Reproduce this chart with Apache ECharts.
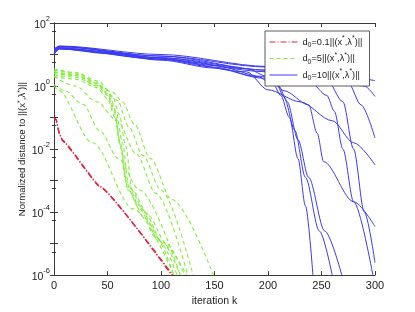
<!DOCTYPE html>
<html><head><meta charset="utf-8">
<script src="https://cdn.jsdelivr.net/npm/echarts@6/dist/echarts.min.js"></script>
<style>html,body{margin:0;padding:0;background:#fff}#c{width:415px;height:312px}</style>
</head><body><div id="c"></div>
<script>
// x ticks
const xTicks = [0, 50, 100, 150, 200, 250, 300];
// y tick exponents (log10)
const yTickExp = [-6, -4, -2, 0, 2];
// Series control points: [iteration k, log10(distance)]
const redLines = [
  [[0,-1.0],[2,-1.05],[5,-1.5],[8,-1.72],[43,-3.18],[110,-6]],
  [[0,-1.02],[2,-1.08],[5,-1.52],[8,-1.75],[43,-3.2],[111,-6]]
];
const greenLines = [
  [[0,0.0],[3,-0.1],[36,-1.8],[74,-3.9],[112,-6]],
  [[0,0.05],[10,-0.15],[27,-0.58],[43,-1.43],[60,-2.3],[80,-3.3],[118,-6]],
  [[0,0.3],[20,0.0],[40,-0.5],[59,-1.1],[77,-2.16],[95,-3.4],[125,-6]],
  [[0,0.45],[20,0.35],[40,0.0],[55,-0.2],[64,-0.5],[75,-1.2],[90,-2.3],[110,-3.6],[149,-6]],
  [[0,0.55],[20,0.42],[45,0.0],[59,-0.45],[70,-1.3],[83,-2.2],[100,-3.3],[130,-6]],
  [[0,0.4],[20,0.33],[40,0.08],[50,-0.25],[56,-0.7],[62,-1.8],[68,-3.2],[80,-3.9],[95,-4.8],[112,-6]],
  [[0,0.45],[20,0.38],[40,0.12],[52,-0.3],[58,-0.8],[64,-1.8],[70,-3.2],[85,-4.0],[100,-4.9],[118,-6]],
  [[0,0.35],[20,0.28],[40,0.02],[50,-0.3],[56,-0.8],[62,-1.9],[67,-3.0],[80,-3.8],[98,-4.9],[115,-6]],
  [[0,0.5],[20,0.43],[42,0.15],[55,-0.35],[61,-0.9],[67,-1.9],[73,-3.3],[88,-4.1],[105,-5.0],[122,-6]],
  [[0,0.3],[20,0.22],[40,-0.05],[50,-0.4],[57,-1.0],[63,-2.0],[69,-3.3],[85,-4.2],[102,-5.0],[124,-6]]
];
const blueLines = [
  [[0,1.05],[5,1.2],[50,1.05],[100,0.85],[150,0.6],[190,0.3],[205,0.05],[212,-0.3],[220,-1.0],[228,-2.3],[235,-3.8],[242,-6]],
  [[0,1.1],[5,1.22],[50,1.07],[100,0.88],[150,0.65],[195,0.3],[208,0.05],[215,-0.35],[225,-1.4],[235,-2.9],[248,-4.6],[260,-6]],
  [[0,1.0],[5,1.18],[50,1.03],[100,0.82],[150,0.57],[195,0.25],[210,0.0],[218,-0.5],[228,-1.7],[238,-2.9],[253,-4.6],[269,-6]],
  [[0,1.15],[5,1.25],[100,0.9],[180,0.55],[200,0.3],[215,-0.15],[238,-0.6],[246,-1.5],[252,-2.4],[280,-3.67],[300,-4.46]],
  [[0,1.12],[5,1.24],[100,0.95],[200,0.5],[240,0.1],[255,-0.3],[262,-0.8],[270,-2.0],[280,-3.67],[298,-6]],
  [[0,1.18],[5,1.27],[100,1.0],[200,0.62],[250,0.4],[300,0.17]],
  [[0,1.05],[5,1.2],[100,0.9],[200,0.5],[260,0.3],[275,0.1],[287,-0.6],[300,-1.65]],
  [[0,1.08],[5,1.2],[100,0.85],[180,0.45],[200,-0.12],[230,-0.5],[260,-1.1],[280,-1.8],[300,-2.5]],
  [[0,1.02],[5,1.17],[100,0.85],[200,0.45],[255,0.2],[270,-0.5],[280,-2.0],[290,-4.0],[300,-5.6]],
  [[0,1.15],[5,1.26],[100,0.95],[200,0.6],[260,0.3],[290,0.0],[300,-0.33]]
];
const legendNames = ['d0=0.1', 'd0=5', 'd0=10'];
const legendLabels = {
  'd0=0.1': 'd{sub|0}=0.1||(x{sup|*},λ{sup|*})||',
  'd0=5': 'd{sub|0}=5||(x{sup|*},λ{sup|*})||',
  'd0=10': 'd{sub|0}=10||(x{sup|*},λ{sup|*})||'
};

const RED = '#e0203c', GREEN = '#84ec40', BLUE = '#3b3bee';
const toVal = pts => pts.map(p => [p[0], Math.pow(10, p[1])]);
const mk = (pts, name, color, type, width, sm) => ({
  type: 'line', name, data: toVal(pts), showSymbol: false, symbol: 'none',
  smooth: sm, smoothMonotone: 'x', clip: true,
  lineStyle: { color, width, type }, itemStyle: { color }
});
const series = [];
blueLines.forEach(p => series.push(mk(p, legendNames[2], BLUE, 'solid', 1, 0.3)));
greenLines.forEach(p => series.push(mk(p, legendNames[1], GREEN, [4, 3], 1.1, 0.3)));
redLines.forEach(p => series.push(mk(p, legendNames[0], RED, [6, 2, 1, 2], 1.3, 0.1)));

const axisCol = '#3a3a3a';
const FONT = 'Liberation Sans';
const rich = {
  sup: { fontSize: 7, verticalAlign: 'top', lineHeight: 8, fontFamily: FONT, color: '#222' },
  sub: { fontSize: 7, verticalAlign: 'bottom', lineHeight: 8, fontFamily: FONT, color: '#222' }
};
const yRich = {
  b: { fontSize: 10.5, fontFamily: FONT, color: '#222', lineHeight: 16, verticalAlign: 'bottom' },
  s: { fontSize: 7.5, fontFamily: FONT, color: '#222', lineHeight: 16, verticalAlign: 'top' }
};

const chart = echarts.init(document.getElementById('c'), null, { renderer: 'canvas' });
chart.setOption({
  animation: false,
  backgroundColor: '#fff',
  grid: { left: 54, right: 40, top: 23, bottom: 35 },
  legend: {
    data: legendNames, orient: 'vertical', left: 265, top: 31,
    padding: [4, 7, 4, 4], itemWidth: 28, itemHeight: 14, itemGap: 2.5,
    backgroundColor: '#fff', borderColor: '#333', borderWidth: 0.8,
    selectedMode: false,
    itemStyle: { opacity: 0, borderWidth: 0 },
    lineStyle: { width: 1 },
    textStyle: { fontSize: 9.2, fontFamily: FONT, color: '#222', lineHeight: 14, rich },
    formatter: n => legendLabels[n]
  },
  xAxis: [{
    type: 'value', min: 0, max: 300, interval: 50,
    name: 'iteration k', nameLocation: 'middle', nameGap: 15,
    nameTextStyle: { fontSize: 10.5, fontFamily: FONT, color: '#222' },
    axisLine: { lineStyle: { color: axisCol, width: 1 } },
    axisTick: { inside: true, length: 4, lineStyle: { color: axisCol } },
    axisLabel: { fontSize: 11, fontFamily: FONT, color: '#222', margin: 5 },
    splitLine: { show: false }
  }, {
    type: 'value', min: 0, max: 300, interval: 50, position: 'top',
    axisLine: { lineStyle: { color: axisCol, width: 1 } },
    axisTick: { inside: true, length: 4, lineStyle: { color: axisCol } },
    axisLabel: { show: false }, splitLine: { show: false }
  }],
  yAxis: [{
    type: 'log', logBase: 10, min: 1e-6, max: 1e2,
    name: 'Normalized distance to ||(x{sup|*},λ{sup|*})||',
    nameLocation: 'middle', nameGap: 27, nameRotate: 90, nameMoveOverlap: false,
    nameTextStyle: { fontSize: 9.6, fontFamily: FONT, color: '#222', rich },
    axisLine: { show: true, lineStyle: { color: axisCol, width: 1 } },
    axisTick: { inside: true, length: 4, lineStyle: { color: axisCol } },
    minorTick: { show: true, splitNumber: 2, length: 2, lineStyle: { color: axisCol } },
    axisLabel: {
      margin: 4, fontFamily: FONT,
      formatter: v => {
        const e = Math.round(Math.log10(v));
        return yTickExp.includes(e) ? '{b|10}{s|' + e + '}' : '';
      },
      rich: yRich
    },
    splitLine: { show: false }
  }, {
    type: 'log', logBase: 10, min: 1e-6, max: 1e2, position: 'right',
    axisLine: { show: true, lineStyle: { color: axisCol, width: 1 } },
    axisTick: { inside: true, length: 4, lineStyle: { color: axisCol } },
    minorTick: { show: true, splitNumber: 2, length: 2, lineStyle: { color: axisCol } },
    axisLabel: { show: false }, splitLine: { show: false }
  }],
  series
});
</script></body></html>
